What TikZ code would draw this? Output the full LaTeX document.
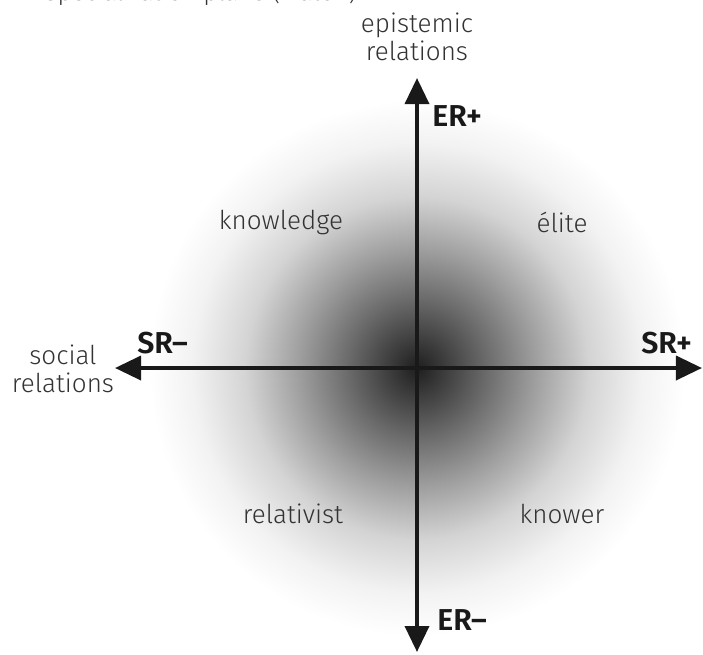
\documentclass[tikz,border=0pt]{standalone}
\usepackage{fontspec}
\setmainfont{Fira Sans}[UprightFont=* Light, BoldFont=* SemiBold]
\usetikzlibrary{arrows.meta}

\pgfdeclareradialshading{planeglow}{\pgfpoint{0bp}{0bp}}{%
  color(0bp)=(black!88);
  color(6.5bp)=(black!58);
  color(11bp)=(black!38);
  color(16bp)=(black!17);
  color(21bp)=(black!5);
  color(25bp)=(white);
  color(50bp)=(white)}

\tikzset{
  axis/.style={line width=2.8pt, black!90,
    {Triangle[length=18.5pt,width=17pt]}-{Triangle[length=18.5pt,width=17pt]}},
  axislabel/.style={font=\fontsize{18.5}{20}\selectfont, align=center, black!80, inner sep=0pt},
  polelabel/.style={font=\fontsize{21.5}{22}\selectfont\bfseries, black!90, inner sep=0pt},
  codelabel/.style={font=\fontsize{18.5}{20}\selectfont, black!80, inner sep=0pt}
}

\begin{document}
\begin{tikzpicture}[x=0.025cm, y=-0.025cm]
        \useasboundingbox (0,0) rectangle (703,654);

        % Sombra radial
        \shade[shading=planeglow] (417,368) circle (268);

        % Titulo (cortado arriba)
        \node[codelabel, font=\fontsize{17.5}{20}\selectfont, anchor=base west] (title) at (44,0) {Specialization plane (Maton)};

        % Extremos de los ejes
        \coordinate (erhigh) at (417,78);
        \coordinate (erlow) at (417,652);
        \coordinate (srlow) at (115,368);
        \coordinate (srhigh) at (702,368);

        % Ejes
        \draw[axis] (erlow) -- (erhigh);
        \draw[axis] (srlow) -- (srhigh);

        % Nombres de los ejes
        \node[axislabel] (er) at (417,37) {epistemic\\relations};
        \node[axislabel] (sr) at (63,369) {social\\relations};

        % Polos
        \node[polelabel, anchor=west] (erplus) at (432,116) {ER+};
        \node[polelabel, anchor=west] (erminus) at (437,620) {ER\textendash};
        \node[polelabel, anchor=west] (srminus) at (137,343) {SR\textendash};
        \node[polelabel, anchor=west] (srplus) at (641,343) {SR+};

        % Codigos
        \node[codelabel] (knowledge) at (281,222) {knowledge};
        \node[codelabel] (elite) at (562,222) {élite};
        \node[codelabel] (relativist) at (293,514) {relativist};
        \node[codelabel] (knower) at (562,514) {knower};
    \end{tikzpicture}
\end{document}
